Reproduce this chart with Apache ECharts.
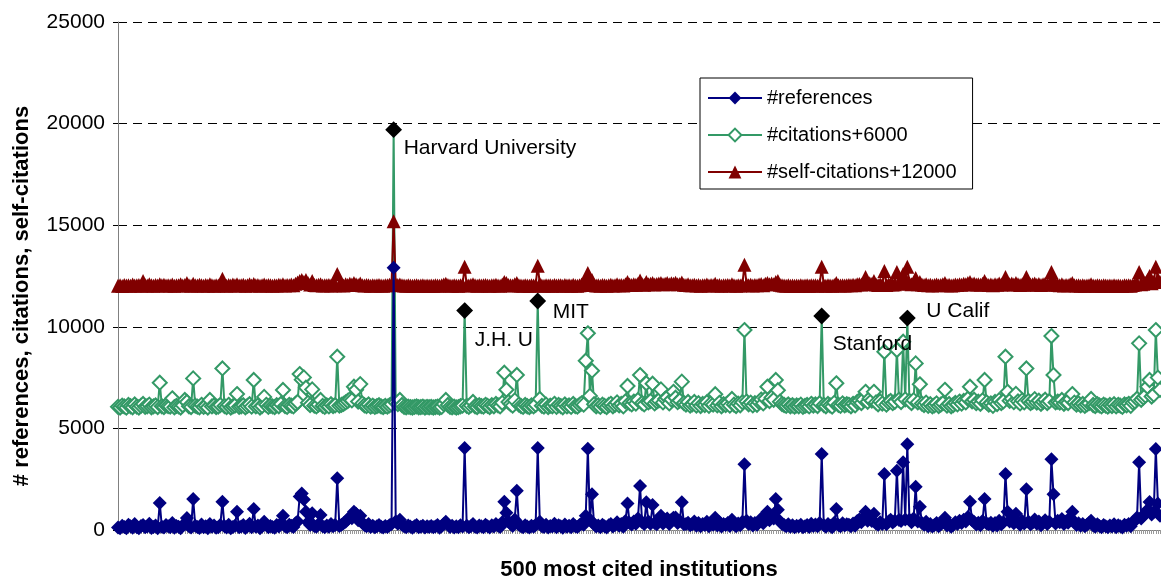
<!DOCTYPE html>
<html><head><meta charset="utf-8">
<script src="https://cdn.jsdelivr.net/npm/echarts@6/dist/echarts.min.js"></script>
<style>html,body{margin:0;padding:0;background:#fff}#c{width:1161px;height:578px}</style>
</head><body><div id="c"></div>
<script>
// #references per institution (500 most cited institutions), in rows of 25
const refsRows = [
[120,90,210,150,80,260,180,110,300,140,90,200,250,130,170,310,100,150,220,90,1330,160,120,240,180],
[140,350,110,200,160,90,230,300,590,180,120,1525,210,150,100,270,130,190,80,300,160,220,110,140,250],
[1390,180,120,260,90,150,210,900,130,170,240,100,190,310,140,1030,160,220,90,180,400,260,130,200,150],
[110,240,170,320,700,180,130,260,210,150,330,420,1650,1800,1500,900,380,250,830,200,160,280,740,190,130],
[220,160,300,180,240,2550,200,260,330,410,520,640,580,900,800,480,700,360,240,180,290,150,210,130,180],
[240,160,120,200,150,230,300,12900,420,310,500,260,180,140,220,170,110,190,250,130,160,210,120,180,150],
[200,130,170,240,110,190,300,400,260,150,210,120,180,140,230,170,4030,210,130,190,300,160,120,220,180],
[140,260,190,120,230,170,300,210,150,380,1390,850,420,310,200,520,1930,260,180,140,230,170,120,210,160],
[240,4030,400,190,150,260,120,200,170,310,140,230,180,110,270,160,210,130,290,180,150,240,320,260,700],
[4000,500,1760,280,170,220,140,260,190,120,230,300,170,250,380,210,290,160,440,1310,350,270,420,310,560],
[2165,380,290,1360,420,310,1230,350,280,440,700,320,480,560,290,510,600,620,340,460,1360,280,290,360,230],
[280,420,210,350,180,300,240,410,190,330,260,600,220,380,170,290,240,350,200,500,270,180,320,230,410],
[3230,450,290,380,220,340,260,410,560,330,620,900,480,700,560,1525,1000,430,300,240,190,280,160,230,140],
[210,170,260,130,190,240,150,310,200,270,180,340,3740,230,160,290,210,140,360,1030,250,190,330,220,280],
[260,180,320,210,440,520,380,600,900,460,560,440,800,320,260,380,300,2755,280,420,510,370,460,2920,490],
[440,3330,520,4215,510,380,560,2130,420,1150,340,260,410,190,300,170,240,350,180,280,370,600,220,310,160],
[250,380,290,460,340,500,420,640,1390,480,390,270,360,230,440,1525,320,280,360,210,340,220,450,280,380],
[2755,900,420,550,330,800,380,260,440,320,2000,410,280,360,520,310,420,230,360,480,290,400,3480,1760,320],
[450,380,540,300,420,360,610,900,380,250,330,210,290,180,260,340,450,220,160,280,200,140,250,190,130],
[220,170,280,140,230,190,120,260,210,300,180,380,450,620,3330,560,700,820,1000,1380,760,880,3985,1300,700]
];
// #citations per institution
const citRows = [
[60,30,120,80,20,150,90,40,180,70,30,110,200,60,90,170,40,80,130,50,1250,90,50,140,100],
[70,480,40,110,80,30,140,400,300,90,50,1460,120,70,40,160,60,110,30,400,80,130,50,70,150],
[1950,100,50,160,30,80,120,690,60,90,140,40,110,190,70,1380,80,130,30,100,550,160,60,120,80],
[50,140,90,200,890,100,60,160,120,80,210,300,1675,1400,1510,1000,260,150,920,120,80,170,400,110,60],
[130,80,190,100,140,2530,120,160,210,280,350,430,380,1050,900,320,1180,230,140,100,180,70,120,60,100],
[140,80,50,110,70,130,190,13700,280,200,400,150,60,40,70,50,30,60,80,40,50,70,30,60,40],
[60,30,50,70,30,60,200,400,150,60,40,70,30,50,90,120,4800,110,60,130,300,90,50,140,100],
[70,160,110,50,140,90,200,130,80,260,1740,900,300,200,120,380,1630,170,100,60,150,90,50,130,80],
[160,5270,450,110,70,170,50,120,90,210,60,150,100,40,180,80,130,60,200,100,70,160,230,170,2330],
[3680,600,1840,190,90,140,60,170,110,50,150,210,90,160,280,130,200,80,330,1085,250,180,320,220,400],
[1625,250,180,1220,280,350,1200,230,320,380,920,280,450,520,230,420,800,510,290,370,1300,250,170,300,120],
[180,300,120,240,100,200,150,290,110,230,170,680,130,260,90,190,150,240,120,450,170,100,220,140,290],
[3840,320,190,270,130,240,160,300,420,230,460,1050,350,520,410,1380,880,310,200,150,110,180,90,140,70],
[130,90,170,60,110,150,80,210,120,180,100,240,4530,150,90,200,130,70,260,1220,160,110,230,140,190],
[160,90,210,130,300,360,250,420,800,310,470,370,800,280,190,330,220,2770,170,280,350,240,310,2860,410],
[300,3265,430,4430,350,250,390,2200,280,1170,220,150,270,110,190,80,140,230,100,170,240,900,120,200,90],
[150,250,180,320,220,350,280,460,1050,330,410,240,310,210,380,1380,280,170,230,110,300,200,390,250,330],
[2530,800,360,460,290,700,330,230,380,280,1950,350,250,310,440,270,360,210,310,410,250,340,3545,1625,280],
[320,270,400,210,300,250,450,690,270,170,230,140,200,110,180,240,450,150,100,190,130,80,170,120,70],
[150,100,190,80,160,120,60,180,140,210,110,270,330,460,3185,410,520,610,1050,1380,570,660,3840,1500,900]
];
// #self-citations per institution
const selfRows = [
[20,40,10,60,30,50,20,80,30,40,60,20,250,50,30,90,40,20,60,30,100,40,70,30,50],
[30,80,20,50,40,100,30,60,150,40,20,120,50,30,70,40,20,60,30,90,40,20,50,30,60],
[370,40,20,60,30,80,40,100,30,50,70,20,40,90,30,110,40,60,20,50,80,30,60,40,20],
[50,30,70,40,90,30,60,40,80,50,120,180,250,300,200,300,150,80,250,60,40,70,100,30,50],
[40,60,30,80,50,600,40,70,30,90,60,120,80,150,100,60,130,50,30,60,40,20,50,30,40],
[60,30,20,50,40,70,90,3200,100,60,80,40,30,20,40,30,20,30,50,20,30,40,20,30,20],
[30,20,40,30,20,50,80,120,60,30,20,40,30,20,50,70,950,40,30,60,100,40,20,50,30],
[40,60,30,20,50,40,70,30,20,80,200,150,60,40,30,90,150,40,30,20,50,30,20,40,30],
[50,1000,120,30,20,50,30,40,20,60,30,50,40,20,60,30,40,20,70,30,20,50,80,60,300],
[650,200,300,60,30,40,20,60,40,20,50,70,30,40,90,50,60,30,100,200,80,60,100,70,120],
[280,90,70,200,100,120,150,80,110,130,150,90,120,160,100,140,120,170,90,110,180,70,60,90,50],
[40,70,30,60,20,50,40,80,30,60,40,120,30,60,20,50,40,60,30,100,40,20,50,30,80],
[1050,90,50,70,30,60,40,80,110,50,120,160,90,130,100,200,250,70,40,30,20,40,20,30,20],
[30,20,40,20,30,40,20,50,30,40,20,60,950,40,20,50,30,20,60,150,40,30,50,30,40],
[60,40,70,50,90,110,80,130,450,90,140,110,250,80,60,100,70,740,60,90,120,80,100,700,150],
[120,600,200,950,140,100,150,400,90,200,80,60,90,40,70,30,60,80,40,60,90,150,50,70,30],
[50,80,60,100,70,120,90,150,200,100,130,80,100,70,120,250,90,60,80,40,100,70,130,80,100],
[450,150,100,130,80,150,90,60,100,70,450,110,80,90,130,70,110,60,90,120,70,100,700,300,80],
[70,50,90,30,60,40,100,150,50,30,40,20,40,20,30,50,100,30,20,40,30,20,40,30,20],
[30,20,40,20,30,20,10,40,30,50,20,60,80,120,700,90,120,150,300,500,140,200,950,350,200]
];
const CIT_OFFSET = 6000;
const SELF_OFFSET = 12000;
const highlightIdx = [132, 166, 201, 337, 378];
const highlightNames = ['Harvard University', 'J.H. U', 'MIT', 'Stanford', 'U Calif'];
const highlightLabelOffsets = [[-3, 19], [-3, 30], [2, 11], [-2, 28], [6, -7]];
const yTicks = [0, 5000, 10000, 15000, 20000, 25000];

const references = [].concat(...refsRows);
const citations = [].concat(...citRows);
const selfCitations = [].concat(...selfRows);
const categories = references.map((_, i) => String(i + 1));

const FONT = 'Arial, "Liberation Sans", sans-serif';
const citData = citations.map((v, i) => {
  const h = highlightIdx.indexOf(i);
  if (h < 0) return v + CIT_OFFSET;
  return {
    value: v + CIT_OFFSET,
    symbol: 'diamond', symbolSize: 14,
    itemStyle: {color: '#000', borderColor: '#000'},
    label: {show: true, position: 'right', distance: 5, offset: highlightLabelOffsets[h],
      formatter: highlightNames[h], color: '#000', fontSize: 21, fontFamily: FONT}
  };
});

const chart = echarts.init(document.getElementById('c'), null, {renderer: 'canvas'});
chart.setOption({
  animation: false,
  backgroundColor: '#fff',
  grid: {left: 118, right: 1, top: 22, bottom: 48, containLabel: false, outerBoundsMode: 'none'},
  legend: {
    orient: 'vertical', left: 700, top: 78,
    padding: [10, 16, 7, 7], itemGap: 17, itemWidth: 54, itemHeight: 16,
    borderColor: '#000', borderWidth: 1, backgroundColor: '#fff',
    textStyle: {fontSize: 20, fontFamily: FONT, color: '#000'},
    data: ['#references', '#citations+6000', '#self-citations+12000']
  },
  xAxis: {
    type: 'category', data: categories, boundaryGap: false,
    name: '500 most cited institutions', nameLocation: 'middle', nameGap: 29,
    nameTextStyle: {fontSize: 22, fontWeight: 'bold', fontFamily: FONT, color: '#000'},
    axisLine: {lineStyle: {color: '#808080', width: 1}},
    axisTick: {show: true, interval: 0, length: 4, lineStyle: {color: '#999'}},
    axisLabel: {show: false}, splitLine: {show: false}
  },
  yAxis: {
    type: 'value', min: yTicks[0], max: yTicks[yTicks.length - 1], interval: 5000,
    name: '# references, citations, self-citations', nameLocation: 'middle', nameGap: 85,
    nameTextStyle: {fontSize: 22, fontWeight: 'bold', fontFamily: FONT, color: '#000', padding: [0, 40, 0, 0]},
    axisLine: {show: true, lineStyle: {color: '#808080', width: 1}},
    axisTick: {show: true, length: 5, lineStyle: {color: '#000'}},
    axisLabel: {fontSize: 21, fontFamily: FONT, color: '#000', margin: 13, formatter: v => String(v)},
    splitLine: {show: true, lineStyle: {color: '#000', width: 1, type: [9, 6]}}
  },
  series: [
    {name: '#references', type: 'line', data: references, showAllSymbol: true,
      symbol: 'diamond', symbolSize: 14, z: 3,
      lineStyle: {color: '#000080', width: 2}, itemStyle: {color: '#000080'}},
    {name: '#citations+6000', type: 'line', data: citData, showAllSymbol: true,
      symbol: 'emptyDiamond', symbolSize: 14, z: 2,
      lineStyle: {color: '#339966', width: 2}, itemStyle: {color: '#339966', borderWidth: 2}},
    {name: '#self-citations+12000', type: 'line', data: selfCitations.map(v => v + SELF_OFFSET), showAllSymbol: true,
      symbol: 'triangle', symbolSize: 14, z: 2,
      lineStyle: {color: '#800000', width: 2}, itemStyle: {color: '#800000'}}
  ]
});
</script></body></html>
